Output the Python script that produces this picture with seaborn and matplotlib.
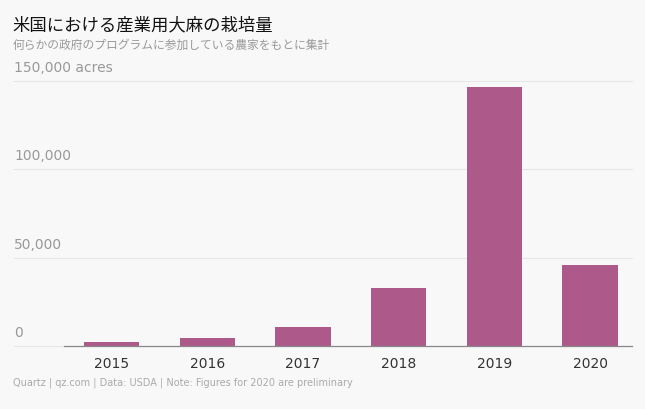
import matplotlib.pyplot as plt
import seaborn as sns
import pandas as pd

years = ["2015", "2016", "2017", "2018", "2019", "2020"]
acres = [2300, 4500, 10800, 32800, 146700, 45900]
yticks = [0, 50000, 100000, 150000]
ytick_labels = ["0", "50,000", "100,000", "150,000 acres"]

bg = "#f8f8f8"
jp = "Noto Sans CJK JP"
df = pd.DataFrame({"year": years, "acres": acres})

fig = plt.figure(figsize=(6.45, 4.1), dpi=100, facecolor=bg)
ax = fig.add_axes([0.099, 0.154, 0.89, 0.646], facecolor=bg)
sns.barplot(data=df, x="year", y="acres", color="#ad5a8b", saturation=1, width=0.58, ax=ax)

ax.set_ylim(0, 150000)
ax.set_yticks(yticks)
ax.set_yticklabels([])
left = (14 / 645 - 0.099) / 0.89
right = (632 / 645 - 0.099) / 0.89
for v, lab in zip(yticks, ytick_labels):
    ax.axhline(v, xmin=left, xmax=right, color="#e6e6e6", lw=0.8, zorder=0, clip_on=False)
    ax.text(left, v + 4000, lab, transform=ax.get_yaxis_transform(),
            fontsize=10, color="#999999", ha="left", va="bottom")
ax.axhline(0, xmin=0, xmax=right, color="#888888", lw=0.9, zorder=3, clip_on=False)
ax.tick_params(axis="y", length=0)
ax.tick_params(axis="x", length=0, labelsize=10, colors="#333333", pad=7)
ax.set_xlabel("")
ax.set_ylabel("")
sns.despine(ax=ax, left=True, bottom=True)

fig.text(0.02, 0.925, "米国における産業用大麻の栽培量", fontsize=12.5, family=jp, color="#111111")
fig.text(0.02, 0.88, "何らかの政府のプログラムに参加している農家をもとに集計",
         fontsize=8.5, family=jp, color="#999999")
fig.text(0.02, 0.06, "Quartz | qz.com | Data: USDA | Note: Figures for 2020 are preliminary",
         fontsize=7, color="#aaaaaa")

fig.savefig("out.png", dpi=100, facecolor=bg)
